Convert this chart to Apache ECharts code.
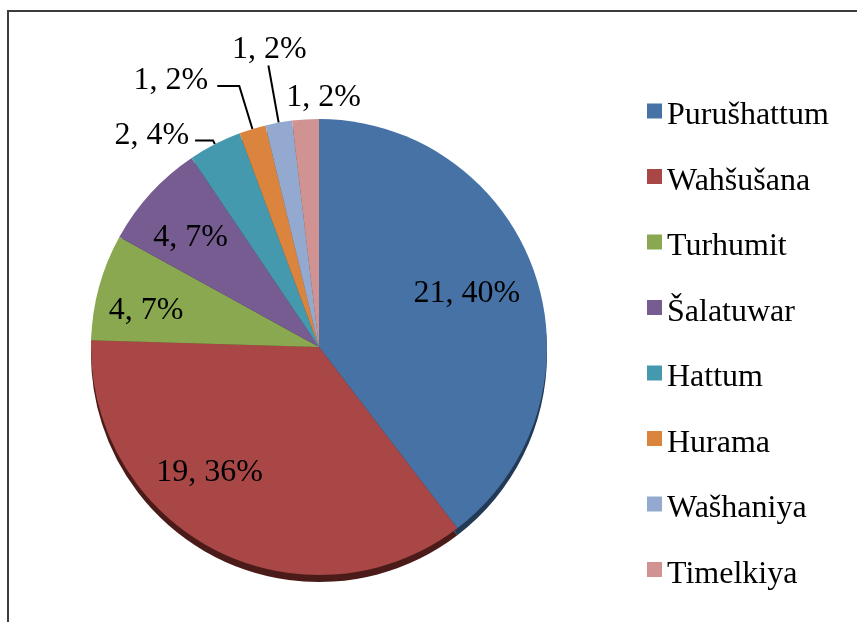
<!DOCTYPE html>
<html>
<head>
<meta charset="utf-8">
<script src="https://cdn.jsdelivr.net/npm/echarts@6/dist/echarts.min.js"></script>
<style>
  html, body { margin: 0; padding: 0; background: #fff; }
  #frame {
    position: absolute; left: 7px; top: 10px; width: 900px; height: 700px;
    border: 2px solid #3c3c3c; box-sizing: border-box;
  }
  #chart { position: absolute; left: 0; top: 0; width: 857px; height: 622px; }
</style>
</head>
<body>
<div id="frame"></div>
<div id="chart"></div>
<script>
// data
const cities = ['Purušhattum', 'Wahšušana', 'Turhumit', 'Šalatuwar', 'Hattum', 'Hurama', 'Wašhaniya', 'Timelkiya'];
const counts = [21, 19, 4, 4, 2, 1, 1, 1];
const percents = ['40%', '36%', '7%', '7%', '4%', '2%', '2%', '2%'];

const colors = ['#4672a6', '#a84745', '#8aa84f', '#765c91', '#4599ae', '#db843d', '#93a9cf', '#d19392'];
const rimColors = ['#233a57', '#4a1b18', '#4a5a24', '#3a2d4a', '#224c57', '#6e421e', '#4a5468', '#684a49'];

// label placement: inside labels are nudged out from the half-radius spot
const inside = [true, true, true, true, false, false, false, false];
const labelLine = [null, null, null, null, [4, 18], [45, 22], [58, 0], [6, 0]];
const labelNudge = {
  0: { dx: 37, dy: -16 },
  1: { dx: -56, dy: 22 },
  2: { dx: -60, dy: -6 },
  3: { dx: -42, dy: -30 },
  4: { dy: -5 },
  5: { dy: -5, dx: -3 },
  6: { align: 'center', verticalAlign: 'bottom', dx: 7 },
  7: { align: 'left', verticalAlign: 'bottom', dx: -13 }
};

const font = "'Liberation Serif', 'Times New Roman', serif";
const center = [319, 347];
const radius = 228;

const mainData = cities.map((name, i) => {
  const item = {
    name: name,
    value: counts[i],
    itemStyle: { color: colors[i] }
  };
  if (inside[i]) {
    item.label = { position: 'inside' };
    item.labelLine = { show: false };
  } else {
    item.label = { position: 'outside' };
    item.labelLine = {
      show: i !== 7,
      length: labelLine[i][0],
      length2: labelLine[i][1]
    };
  }
  return item;
});

const rimData = cities.map((name, i) => ({
  name: name,
  value: counts[i],
  itemStyle: { color: rimColors[i] }
}));

const chart = echarts.init(document.getElementById('chart'));
chart.setOption({
  animation: false,
  backgroundColor: 'transparent',
  legend: {
    orient: 'vertical',
    left: 642,
    top: 95,
    // square sits in the top of a taller box so the text reads a little lower
    icon: 'path://M0,0h15v15h-15zM0,25h15',
    itemWidth: 15,
    itemHeight: 25,
    itemGap: 33.5,
    data: cities,
    selectedMode: false,
    textStyle: {
      fontFamily: font,
      fontSize: 32,
      color: '#000'
    }
  },
  series: [
    {
      name: 'cities',
      type: 'pie',
      z: 3,
      center: center,
      radius: radius,
      startAngle: 90,
      clockwise: true,
      avoidLabelOverlap: false,
      silent: true,
      data: mainData,
      label: {
        show: true,
        color: '#000',
        fontFamily: font,
        fontSize: 32,
        distanceToLabelLine: 6,
        formatter: p => p.value + ', ' + percents[p.dataIndex]
      },
      labelLine: {
        lineStyle: { color: '#000', width: 2 }
      },
      labelLayout: p => labelNudge[p.dataIndex] || {}
    },
    {
      name: 'rim',
      type: 'pie',
      z: 1,
      center: [center[0], center[1] + 7],
      radius: radius,
      startAngle: 90,
      clockwise: true,
      silent: true,
      data: rimData,
      label: { show: false },
      labelLine: { show: false }
    }
  ]
});
</script>
</body>
</html>
